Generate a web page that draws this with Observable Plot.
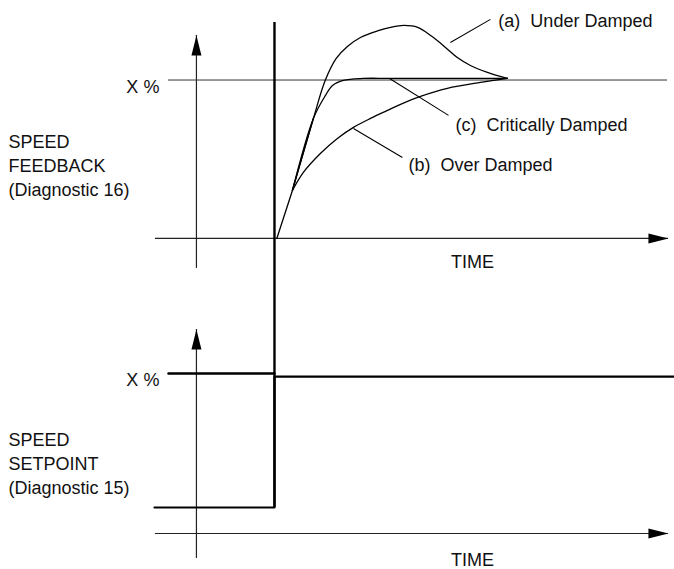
<!DOCTYPE html>
<html>
<head>
<meta charset="utf-8">
<script src="https://cdn.jsdelivr.net/npm/d3@7"></script>
<script src="https://cdn.jsdelivr.net/npm/@observablehq/plot@0.6"></script>
<style>
  html, body { margin: 0; padding: 0; background: #fff; }
  #chart svg { display: block; }
</style>
</head>
<body>
<div id="chart"></div>
<script>
// ---- Data (time units, % of X) ----
// Upper panel: common initial rise after the setpoint step at t = 0
const riseT  = [1, 7.7, 16.7];
const riseP  = [0, 30, 75];
// responses branching off the common rise
const underT = [7.7, 16.7, 21.8, 26.5, 31.3, 36.9, 44.2, 49.8, 55.5, 61.5, 67.5, 73.4, 78.5, 84.1, 91.4, 100];
const underP = [30, 75, 98.8, 112.5, 120, 125.6, 129.7, 131.9, 133.1, 131.9, 126.3, 119.4, 113.1, 108.1, 103.8, 100];
const critT  = [7.7, 16.7, 21.9, 24.9, 29.6, 38.2, 49.8, 100];
const critP  = [30, 75, 89.4, 95.6, 98.8, 100, 100, 100];
const overT  = [7.7, 12.4, 19.7, 27.0, 33.9, 41.2, 48.5, 54.1, 62.7, 74.2, 88.4, 100];
const overP  = [30, 41.3, 53.1, 62.5, 69.4, 75, 80, 83.8, 88.8, 93.8, 97.5, 100];

// Lower panel: speed setpoint step
const setT = [-51.5, 0, 0, 172];
const setP = [16.25, 16.25, 98, 98];
const levelMarkT = [-45.5, 0];   // X % level, lower panel
const levelMarkP = [100, 100];

// Curve labels and their leader lines (upper panel)
const curveLabels = ["(a)  Under Damped", "(c)  Critically Damped", "(b)  Over Damped"];
const labelT = [96.1, 77.7, 57.5];
const labelP = [131.9, 66.9, 41.9];
const leaderT1 = [75.5, 49.4, 33.9];
const leaderP1 = [122.5, 100, 68.75];
const leaderT2 = [92.7, 74.7, 54.9];
const leaderP2 = [136.9, 76.9, 50.6];

const panelNames = ["SPEED\nFEEDBACK\n(Diagnostic 16)", "SPEED\nSETPOINT\n(Diagnostic 15)"];
const levelLabel = "X %";
const timeLabel = "TIME";

// ---- Layout of the two panels in one frame ----
const upperOffset = 184.4;  // upper panel baseline, in lower-panel % units
const lowerOffset = 0;
const axisT = -33.5;        // vertical axis position
const axisStart = -51.1, axisEnd = 169.1;
const upper = p => upperOffset + p;
const lower = p => lowerOffset + p;

const zip = (ts, ps, f) => ts.map((t, i) => ({t, v: f(ps[i])}));

const riseD  = zip(riseT, riseP, upper);
const underD = zip(underT, underP, upper);
const critD  = zip(critT, critP, upper);
const overD  = zip(overT, overP, upper);
const setD   = zip(setT, setP, lower);
const markD  = zip(levelMarkT, levelMarkP, lower);

const leaders = curveLabels.map((s, i) => ({x1: leaderT1[i], y1: upper(leaderP1[i]), x2: leaderT2[i], y2: upper(leaderP2[i])}));
const labels = curveLabels.map((s, i) => ({t: labelT[i], v: upper(labelP[i]), s}));

// axes (horizontal and vertical, each panel)
const hAxes = [{x1: axisStart, x2: axisEnd, y: upper(0)}, {x1: axisStart, x2: axisEnd, y: lower(0)}];
const vAxes = [{x: axisT, y1: upper(-18.75), y2: upper(126.9)}, {x: axisT, y1: lower(-15.6), y2: lower(127.5)}];
const xLevel = [{x1: -45.5, x2: 168.7, y: upper(99)}];

// arrow heads: elongated filled triangle, tip at the point
const arrowHead = {
  draw(ctx) { ctx.moveTo(0, 0); ctx.lineTo(-5, 20); ctx.lineTo(5, 20); ctx.closePath(); }
};
const heads = [
  ...vAxes.map(a => ({t: a.x, v: a.y2, rot: 0})),
  ...hAxes.map(a => ({t: a.x2, v: a.y, rot: 90}))
];

const font = "'Liberation Sans', Arial, Helvetica, sans-serif";
const txt = {fontSize: 18, fill: "#111"};
const curveStyle = {x: "t", y: "v", stroke: "#000", strokeWidth: 1.3};

const plot = Plot.plot({
  width: 674,
  height: 569,
  margin: 0,
  x: {domain: [-117.6, 171.7], axis: null},
  y: {domain: [-22.5, 333.1], axis: null},
  style: {fontFamily: font, background: "#fff"},
  marks: [
    // axes
    Plot.ruleY(hAxes, {x1: "x1", x2: "x2", y: "y", stroke: "#222", strokeWidth: 1.2}),
    Plot.ruleX(vAxes, {x: "x", y1: "y1", y2: "y2", stroke: "#222", strokeWidth: 1.2}),
    Plot.dot(heads, {x: "t", y: "v", symbol: arrowHead, r: 5, fill: "#000", stroke: null, rotate: "rot"}),
    // X % reference line (upper)
    Plot.ruleY(xLevel, {x1: "x1", x2: "x2", y: "y", stroke: "#333", strokeWidth: 1}),
    // step instant (thick)
    Plot.ruleX([0], {y1: lower(setP[0]), y2: upper(135), stroke: "#000", strokeWidth: 2.4}),
    // setpoint trace and X % level marker (lower)
    Plot.line(setD, {x: "t", y: "v", stroke: "#000", strokeWidth: 2.2}),
    Plot.line(markD, {x: "t", y: "v", stroke: "#000", strokeWidth: 2.4}),
    // responses
    Plot.line(riseD, curveStyle),
    Plot.line(underD, {...curveStyle, curve: "catmull-rom"}),
    Plot.line(critD, {...curveStyle, curve: "catmull-rom"}),
    Plot.line(overD, {...curveStyle, curve: "catmull-rom"}),
    // leaders + labels
    Plot.link(leaders, {x1: "x1", y1: "y1", x2: "x2", y2: "y2", stroke: "#000", strokeWidth: 1.1}),
    Plot.text(labels, {x: "t", y: "v", text: "s", textAnchor: "start", lineAnchor: "bottom", ...txt}),
    // X % labels
    Plot.text([{t: -49.4, v: upper(90.6)}, {t: -49.4, v: lower(91.9)}], {x: "t", y: "v", text: () => levelLabel, textAnchor: "end", lineAnchor: "bottom", ...txt}),
    // TIME labels
    Plot.text([{t: 85, v: upper(-18.75)}, {t: 85, v: lower(-20.3)}], {x: "t", y: "v", text: () => timeLabel, textAnchor: "middle", lineAnchor: "bottom", ...txt}),
    // panel names
    Plot.text([{t: -114.2, v: upper(26.25), s: panelNames[0]}, {t: -114.2, v: lower(24.4), s: panelNames[1]}], {x: "t", y: "v", text: "s", textAnchor: "start", lineAnchor: "bottom", lineHeight: 1.333, ...txt})
  ]
});
document.getElementById("chart").appendChild(plot);
</script>
</body>
</html>
